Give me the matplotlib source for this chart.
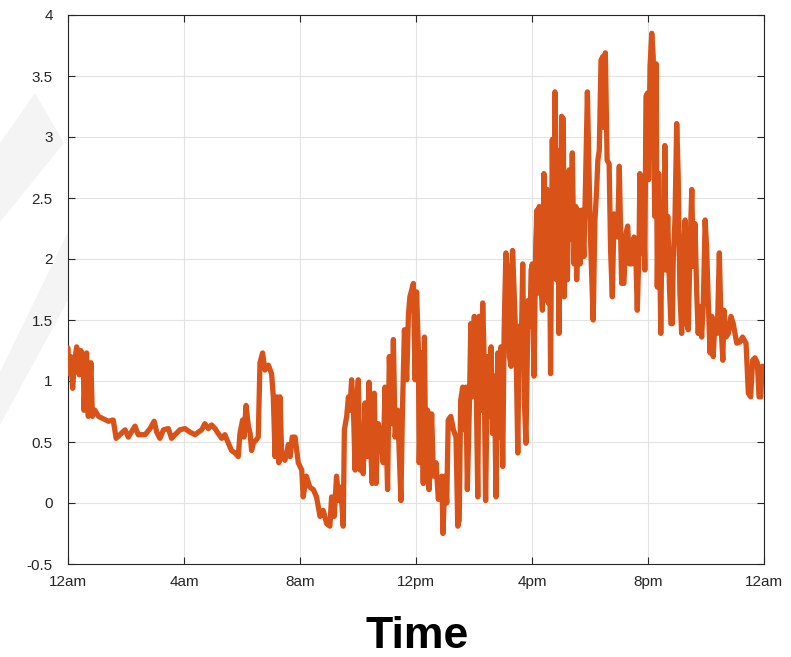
import matplotlib
matplotlib.use('Agg')

import matplotlib.pyplot as plt
from matplotlib.patches import Polygon

hours = [
    0, 0.03, 0.09, 0.16, 0.22, 0.3, 0.39, 0.44, 0.53, 0.55, 0.64, 0.7, 0.79, 0.84, 0.93,
    1.05, 1.22, 1.39, 1.56, 1.66, 1.79, 1.97, 2.08, 2.31, 2.42, 2.66, 2.83, 2.97, 3.06,
    3.17, 3.29, 3.46, 3.57, 3.69,
    3.86, 4.03, 4.21, 4.38, 4.49, 4.61, 4.72, 4.84, 4.95, 5.07, 5.18, 5.30, 5.41, 5.53,
    5.64, 5.76, 5.87, 5.93, 6.02, 6.07, 6.14, 6.22, 6.28, 6.33, 6.39, 6.5, 6.56, 6.62,
    6.71, 6.79, 6.91, 7.02, 7.08, 7.14, 7.2, 7.27, 7.31, 7.37, 7.48, 7.54, 7.6, 7.66, 7.73,
    7.83, 7.94, 8.06, 8.11, 8.22, 8.34, 8.46, 8.57, 8.69, 8.8, 8.92, 9.03, 9.09, 9.18,
    9.26, 9.34, 9.41, 9.49, 9.53, 9.61, 9.67, 9.72, 9.78, 9.84, 9.9, 9.95, 10.01, 10.07,
    10.13, 10.18, 10.24, 10.3, 10.38, 10.45, 10.49, 10.56, 10.62, 10.7, 10.79, 10.87,
    10.93, 11.02, 11.08, 11.16, 11.22, 11.28, 11.37, 11.48, 11.53, 11.6, 11.68, 11.74,
    11.79, 11.91, 11.97, 12.02, 12.08, 12.11, 12.2, 12.25, 12.29, 12.34, 12.4, 12.45,
    12.54, 12.6, 12.69, 12.77, 12.89, 12.93, 13.0, 13.06, 13.11, 13.2, 13.29, 13.38,
    13.44, 13.49, 13.54, 13.61, 13.67, 13.72, 13.77, 13.84, 13.89, 13.94, 14.01, 14.07,
    14.13, 14.18, 14.24, 14.3, 14.34, 14.4, 14.47, 14.53, 14.59, 14.64, 14.7, 14.76,
    14.82, 14.87, 14.93, 14.99, 15.04, 15.1, 15.16, 15.22, 15.28, 15.33, 15.39, 15.45,
    15.51, 15.56, 15.62, 15.68,
    15.74, 15.79, 15.87, 15.93, 15.97, 16.01, 16.07, 16.13, 16.17, 16.22, 16.25, 16.31,
    16.36, 16.41, 16.47, 16.52, 16.56, 16.6, 16.64, 16.7, 16.75, 16.79, 16.84, 16.89,
    16.93, 16.98, 17.02, 17.08, 17.11, 17.17, 17.22, 17.28, 17.33, 17.39, 17.45, 17.51,
    17.54, 17.6, 17.66, 17.71, 17.79, 17.85, 17.91, 17.97, 18.03, 18.11, 18.17, 18.23,
    18.27, 18.32, 18.38, 18.44, 18.47, 18.53, 18.59, 18.66, 18.71, 18.77, 18.83, 18.9,
    18.95, 19.01, 19.09, 19.17, 19.24, 19.3, 19.36, 19.44, 19.52, 19.58, 19.63, 19.69,
    19.72, 19.78, 19.83, 19.89, 19.93, 19.98, 20.02, 20.07, 20.13, 20.18, 20.23, 20.28,
    20.32, 20.37, 20.44, 20.49, 20.55, 20.58, 20.63, 20.68, 20.74, 20.79, 20.84, 20.87,
    20.93, 20.99, 21.04, 21.1, 21.16, 21.22, 21.28, 21.33, 21.39, 21.45, 21.51, 21.56,
    21.62, 21.68, 21.73, 21.79, 21.85, 21.91, 21.97, 22.02, 22.08, 22.14, 22.2, 22.25,
    22.31, 22.39, 22.46, 22.52, 22.58, 22.62, 22.69, 22.77, 22.86, 22.94, 23.06, 23.17,
    23.26, 23.38, 23.46, 23.54, 23.61, 23.69, 23.77, 23.83, 23.89, 23.93, 24.0,
]
values = [
    1.27, 1.06, 1.20, 0.94, 1.15, 1.28, 1.05, 1.25, 1.20, 0.76, 1.23, 0.71, 1.15, 0.71, 0.76,
    0.71, 0.69, 0.67, 0.68, 0.53, 0.56, 0.60, 0.54, 0.63, 0.56, 0.56, 0.61, 0.67, 0.58,
    0.53, 0.60, 0.61, 0.53, 0.56,
    0.60, 0.61, 0.58, 0.56, 0.58, 0.60, 0.65, 0.61, 0.64, 0.61, 0.57, 0.53, 0.56, 0.49,
    0.43, 0.41, 0.38, 0.57, 0.68, 0.54, 0.80, 0.63, 0.57, 0.43, 0.49, 0.52, 0.54, 1.15,
    1.23, 1.09, 1.13, 1.06, 0.87, 0.38, 0.87, 0.33, 0.87, 0.38, 0.35, 0.41, 0.48, 0.38, 0.54,
    0.54, 0.33, 0.27, 0.05, 0.22, 0.13, 0.11, 0.05, -0.11, -0.06, -0.17, -0.19, 0.05, -0.11,
    0.22, 0.02, 0.13, -0.19, 0.60, 0.71, 0.87, 0.76, 1.01, 0.79, 0.27, 0.73, 1.01, 0.27,
    0.54, 0.24, 0.82, 0.38, 0.99, 0.38, 0.16, 0.90, 0.16, 0.65, 0.54, 0.33,
    0.95, 0.11, 1.20, 0.65, 1.34, 0.54, 0.76, 0.02, 0.73, 1.42, 1.01, 1.55,
    1.69, 1.80, 1.01, 1.73, 1.28, 0.33, 1.23, 0.16, 1.36, 0.24, 0.76, 0.11,
    0.73, 0.22, 0.33, 0.03, 0.22, -0.25, 0.22, 0.00, 0.68, 0.71, 0.60, 0.54,
    -0.19, -0.14, 0.84, 0.95, 0.60, 0.95, 0.11, 0.79, 1.47, 0.87, 1.53, 1.06,
    0.05, 1.53, 0.76, 1.64, 1.28, 0.02, 1.20, 0.71, 1.28, 0.57, 1.04, 0.05,
    1.23, 0.54, 1.28, 0.30, 1.42, 2.05, 1.91, 1.20, 1.12, 2.07, 1.69, 1.28,
    0.41, 1.45, 1.15, 1.96,
    0.82, 0.49, 1.66, 1.45, 1.91, 1.96, 1.04, 2.13, 2.40, 1.72, 2.43, 1.80,
    1.58, 2.70, 1.80, 2.57, 1.64, 2.37, 1.06, 2.98, 1.94, 3.37, 1.83, 2.89,
    1.39, 2.40, 3.17, 3.15, 1.69, 2.29, 1.83, 2.73, 2.16, 2.87, 1.96, 2.43,
    1.83, 2.40, 1.96, 2.40, 2.02, 2.67, 3.37, 2.67, 2.07, 1.50, 2.32, 2.57,
    2.81, 2.89, 3.63, 3.66, 3.08, 3.69, 2.81, 2.78, 2.07, 1.69, 2.37, 2.21,
    2.18, 2.76, 1.80, 1.80, 2.21, 2.27, 1.96, 1.96, 2.18, 2.02, 1.58, 2.07,
    2.70, 2.05, 2.67, 1.91, 3.33, 3.36, 2.65, 3.58, 3.85, 3.66, 2.35, 3.60,
    1.77, 2.70, 1.39, 2.46, 1.91, 2.93, 1.91, 2.35, 1.77, 1.47, 1.47, 1.99,
    2.32, 3.11, 2.70, 1.72, 1.39, 2.05, 2.32, 1.47, 1.42, 2.10, 2.57, 1.94,
    2.29, 1.72, 1.39, 1.61, 1.36, 1.66, 2.32, 2.10, 1.64, 1.23, 1.53, 1.20,
    1.50, 1.39, 2.05, 1.45, 1.17, 1.58, 1.36, 1.39, 1.53, 1.47, 1.31, 1.32,
    1.36, 1.31, 0.90, 0.87, 1.17, 1.19, 1.15, 0.87, 0.87, 1.12, 1.12,
]

x_ticks = [0, 4, 8, 12, 16, 20, 24]
x_labels = ['12am', '4am', '8am', '12pm', '4pm', '8pm', '12am']
y_ticks = [-0.5, 0, 0.5, 1, 1.5, 2, 2.5, 3, 3.5, 4]
y_labels = ['-0.5', '0', '0.5', '1', '1.5', '2', '2.5', '3', '3.5', '4']

plt.rcParams['font.family'] = ['Liberation Sans', 'DejaVu Sans']

fig = plt.figure(figsize=(7.91, 6.57), dpi=100)

# faint watermark bands on the left edge (behind the axes and its labels)
for pts in ([(0, 143), (35, 93), (64, 143), (0, 222)],
            [(0, 372), (68, 232), (68, 300), (0, 425)]):
    fig.patches.append(Polygon([(x / 791, 1 - y / 657) for x, y in pts], closed=True,
                               transform=fig.transFigure, facecolor='#f4f4f4',
                               edgecolor='none', zorder=0))

ax = fig.add_axes([68 / 791, 1 - 564 / 657, (764 - 68) / 791, (564 - 15) / 657])
ax.set_zorder(2)
ax.set_facecolor('white')

ax.plot(hours, values, color='#D95319', linewidth=3.8,
        solid_joinstyle='round', solid_capstyle='round', zorder=3)

ax.set_xlim(0, 24)
ax.set_ylim(-0.5, 4)
ax.set_xticks(x_ticks)
ax.set_xticklabels(x_labels)
ax.set_yticks(y_ticks)
ax.set_yticklabels(y_labels)

ax.grid(True, color='#e3e3e3', linewidth=0.8)
ax.set_axisbelow(True)
ax.tick_params(direction='in', length=5, width=0.8, color='#262626',
               top=True, right=True, labelsize=11, labelcolor='#262626')
ax.tick_params(axis='x', pad=8)
ax.tick_params(axis='y', pad=11)
for s in ax.spines.values():
    s.set_color('#262626')
    s.set_linewidth(0.8)

fig.text(417 / 791, 1 - 648 / 657, 'Time', ha='center', va='baseline',
         fontsize=32, fontweight='bold')

fig.savefig('out.png', dpi=100)
